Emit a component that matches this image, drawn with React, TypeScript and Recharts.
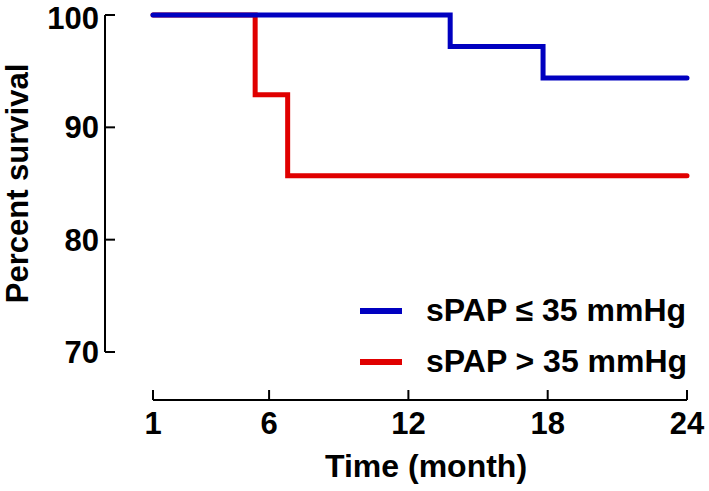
import { Label, Legend, Line, LineChart, XAxis, YAxis } from 'recharts'

// Kaplan-Meier steps (month, percent surviving)
const lowMonths = [1, 13.8, 17.8, 24]
const lowSurvival = [100, 97.2, 94.4, 94.4]
const highMonths = [1, 5.4, 6.8, 24]
const highSurvival = [100, 92.9, 85.7, 85.7]

const xTicks = [1, 6, 12, 18, 24]
const yTicks = [70, 80, 90, 100]
const legendOrder = ['sPAP ≤ 35 mmHg', 'sPAP > 35 mmHg']

const FONT = '"Liberation Sans", Arial, sans-serif'
const BLUE = '#0000c0'
const RED = '#e00000'

const lowData = lowMonths.map((month, i) => ({ month, survival: lowSurvival[i] }))
const highData = highMonths.map((month, i) => ({ month, survival: highSurvival[i] }))

const axisStroke = { stroke: '#000', strokeWidth: 2 }
const tickStyle = { fill: '#000', fontSize: 31, fontWeight: 700, fontFamily: FONT }

function renderLegend(props: any) {
  const items = [...(props.payload ?? [])].sort(
    (a: any, b: any) => legendOrder.indexOf(a.value) - legendOrder.indexOf(b.value)
  )
  return (
    <div>
      {items.map((item: any) => (
        <div key={item.value} style={{ display: 'flex', alignItems: 'center', height: 51 }}>
          <svg width={42} height={6}>
            <line x1={0} y1={3} x2={42} y2={3} stroke={item.color} strokeWidth={6} />
          </svg>
          <span
            style={{ marginLeft: 24, fontSize: 32, fontWeight: 700, fontFamily: FONT, color: '#000' }}
          >
            {item.value}
          </span>
        </div>
      ))}
    </div>
  )
}

function YTitle(props: any) {
  const { x, y, height } = props.viewBox
  return (
    <text
      transform={`translate(${x + 28},${y + height / 2}) rotate(-90)`}
      textAnchor="middle"
      fill="#000"
      fontSize={31}
      fontWeight={700}
      fontFamily={FONT}
    >
      Percent survival
    </text>
  )
}

export default function App() {
  return (
    <div style={{ position: 'absolute', left: 0, top: 0 }}>
      <LineChart width={709} height={491} margin={{ top: 15, right: 22, bottom: 0, left: 0 }}>
        {/* empty axes that leave the gap between the offset axes */}
        <XAxis xAxisId={0} type="number" domain={[0, 1]} height={48} axisLine={false} tickLine={false} tick={false} />
        <YAxis yAxisId={0} type="number" domain={[0, 1]} width={48} axisLine={false} tickLine={false} tick={false} />
        <XAxis
          xAxisId={1}
          dataKey="month"
          type="number"
          domain={[1, 24]}
          ticks={xTicks}
          height={91}
          axisLine={axisStroke}
          tickLine={axisStroke}
          tickSize={-10}
          tickMargin={22}
          tick={tickStyle}
        >
          <Label
            value="Time (month)"
            position="insideBottom"
            offset={14}
            dx={6}
            fill="#000"
            fontSize={32}
            fontWeight={700}
            fontFamily={FONT}
          />
        </XAxis>
        <YAxis
          yAxisId={1}
          type="number"
          domain={[70, 100]}
          ticks={yTicks}
          width={105}
          axisLine={axisStroke}
          tickLine={axisStroke}
          tickSize={-10}
          tickMargin={16}
          tick={tickStyle}
        >
          <Label content={YTitle} />
        </YAxis>
        <Legend
          layout="vertical"
          align="center"
          verticalAlign="middle"
          wrapperStyle={{ left: 360, top: 285, width: 'auto' }}
          content={renderLegend}
        />
        <Line
          xAxisId={1}
          yAxisId={1}
          data={highData}
          dataKey="survival"
          name="sPAP > 35 mmHg"
          type="stepAfter"
          stroke={RED}
          strokeWidth={5}
          strokeLinecap="round"
          dot={false}
          activeDot={false}
          isAnimationActive={false}
        />
        <Line
          xAxisId={1}
          yAxisId={1}
          data={lowData}
          dataKey="survival"
          name="sPAP ≤ 35 mmHg"
          type="stepAfter"
          stroke={BLUE}
          strokeWidth={5}
          strokeLinecap="round"
          dot={false}
          activeDot={false}
          isAnimationActive={false}
        />
      </LineChart>
    </div>
  )
}
